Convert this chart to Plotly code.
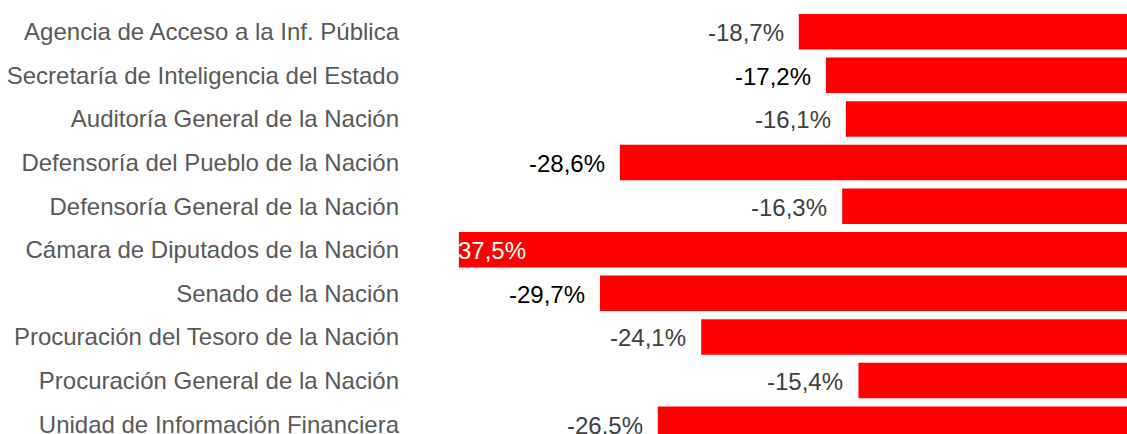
import plotly.graph_objects as go

categories = [
    "Agencia de Acceso a la Inf. Pública",
    "Secretaría de Inteligencia del Estado",
    "Auditoría General de la Nación",
    "Defensoría del Pueblo de la Nación",
    "Defensoría General de la Nación",
    "Cámara de Diputados de la Nación",
    "Senado de la Nación",
    "Procuración del Tesoro de la Nación",
    "Procuración General de la Nación",
    "Unidad de Información Financiera",
]
values = [-18.7, -17.2, -16.1, -28.6, -16.3, -37.5, -29.7, -24.1, -15.4, -26.5]
value_labels = ["-18,7%", "-17,2%", "-16,1%", "-28,6%", "-16,3%", "37,5%",
                "-29,7%", "-24,1%", "-15,4%", "-26.5%"]
label_colors = ["#404040", "#000000", "#404040", "#000000", "#404040", "#FFFFFF",
                "#000000", "#404040", "#404040", "#404040"]
label_inside = [False, False, False, False, False, True, False, False, False, False]

FONT = "Liberation Sans, Arial, sans-serif"
FS = 24

fig = go.Figure()
fig.add_trace(go.Bar(
    y=categories, x=values, orientation="h",
    marker=dict(color="#FF0000", line=dict(width=0)),
    hoverinfo="skip",
))

annotations = []
for c, v, t, col, ins in zip(categories, values, value_labels, label_colors, label_inside):
    annotations.append(dict(
        x=v, y=c, xref="x", yref="y", text=t, showarrow=False,
        xanchor="left" if ins else "right",
        xshift=-3 if ins else -13, yshift=-1,
        font=dict(family=FONT, size=FS, color=col),
    ))

L = 400
px_per = 18.08
x0_px = 1136.9
xmin = (L - x0_px) / px_per
xmax = (1127 - x0_px) / px_per
row0 = 31.75
row_h = 43.6

fig.update_layout(
    width=1127, height=434,
    margin=dict(l=L, r=0, t=0, b=0, pad=0),
    paper_bgcolor="white", plot_bgcolor="white",
    bargap=0.186,
    showlegend=False,
    annotations=annotations,
    font=dict(family=FONT, size=FS, color="#595959"),
    xaxis=dict(range=[xmin, xmax], visible=False, showgrid=False, zeroline=False,
               fixedrange=True),
    yaxis=dict(
        type="category", categoryorder="array", categoryarray=categories,
        range=[(434 - row0) / row_h, -row0 / row_h],
        showgrid=False, zeroline=False, showline=False, ticks="",
        tickfont=dict(family=FONT, size=FS, color="#595959"),
        automargin=False, fixedrange=True,
    ),
)

fig.write_html(
    "out.html",
    config={"displayModeBar": False, "staticPlot": True},
    post_script="document.body.style.margin='0';document.body.style.overflow='hidden';",
)
